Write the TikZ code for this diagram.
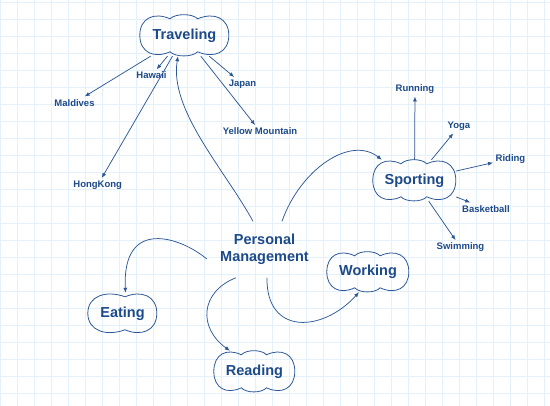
\documentclass[tikz,border=0pt]{standalone}
\usepackage{fontspec}
\setmainfont{Liberation Sans}
\usetikzlibrary{arrows.meta,calc}
\definecolor{txtblue}{RGB}{28,74,138}
\definecolor{lnblue}{RGB}{45,88,152}
\definecolor{gridblue}{RGB}{228,241,250}
\newcommand\cloudThree[3]{%
 \begin{scope}[shift={(#1.north west)}]
  \draw[cloudline] ({0.34*#2},4) .. controls ({0.16*#2},-3) and (0,{0.08*#3}) .. (0,{0.5*#3})
   .. controls (0,{0.92*#3}) and ({0.16*#2},{#3+3}) .. ({0.34*#2},{#3-4})
   .. controls ({0.40*#2},{#3+1.5}) and ({0.59*#2},{#3+1.5}) .. ({0.65*#2},{#3-4})
   .. controls ({0.835*#2},{#3+3}) and (#2,{0.92*#3}) .. (#2,{0.5*#3})
   .. controls (#2,{0.08*#3}) and ({0.835*#2},-3) .. ({0.65*#2},4)
   .. controls ({0.59*#2},-1.5) and ({0.40*#2},-1.5) .. cycle;
 \end{scope}}
\newcommand\cloudTwo[3]{%
 \begin{scope}[shift={(#1.north west)}]
  \draw[cloudline] ({0.54*#2},4) .. controls ({0.26*#2},-3) and (0,{0.08*#3}) .. (0,{0.5*#3})
   .. controls (0,{0.92*#3}) and ({0.26*#2},{#3+3}) .. ({0.54*#2},{#3-4})
   .. controls ({0.78*#2},{#3+3}) and (#2,{0.92*#3}) .. (#2,{0.5*#3})
   .. controls (#2,{0.08*#3}) and ({0.78*#2},-3) .. cycle;
 \end{scope}}
\begin{document}
\begin{tikzpicture}[x=1pt,y=-1pt,
  cloudline/.style={draw=lnblue,line width=0.8pt},
  cloudnode/.style={inner sep=0pt,text=txtblue,font=\bfseries\fontsize{14.5}{17}\selectfont},
  leaf/.style={inner sep=2.5pt,text=txtblue,font=\bfseries\fontsize{9.5}{11}\selectfont},
  central/.style={inner sep=0pt,minimum width=115pt,minimum height=56pt,align=center,text=txtblue,font=\bfseries\fontsize{14.5}{17}\selectfont},
  conn/.style={draw=lnblue,line width=0.75pt,-{Latex[length=5pt,width=4pt]}},
  gridline/.style={draw=gridblue,line width=0.5pt}]
\useasboundingbox (0,0) rectangle (550,406);
\fill[white] (0,0) rectangle (550,406);
\foreach \i in {0,17,...,550} \draw[gridline] (\i,0) -- (\i,406);
\foreach \j in {2,19,...,406} \draw[gridline] (0,\j) -- (550,\j);

% central
\node[central] (pm) at (264.5,249.5) {Personal\\Management};

% clouds
\node[cloudnode,minimum width=89pt,minimum height=41pt] (trav) at (184.5,35.5) {Traveling};
\node[cloudnode,minimum width=83pt,minimum height=41pt] (sport) at (414.5,180.5) {Sporting};
\node[cloudnode,minimum width=82pt,minimum height=40pt] (work) at (368,272) {Working};
\node[cloudnode,minimum width=69pt,minimum height=41pt] (eat) at (122.5,313.5) {Eating};
\node[cloudnode,minimum width=81pt,minimum height=41pt] (read) at (254.5,371.5) {Reading};
\cloudThree{trav}{89}{41}
\cloudThree{sport}{83}{41}
\cloudThree{work}{82}{40}
\cloudTwo{eat}{69}{41}
\cloudThree{read}{81}{41}

% leaves
\node[leaf] (hawaii) at (151.5,75.6) {Hawaii};
\node[leaf] (maldives) at (74.5,102.7) {Maldives};
\node[leaf] (japan) at (242.5,84) {Japan};
\node[leaf] (yellow) at (260,131.3) {Yellow Mountain};
\node[leaf] (hongkong) at (97.7,185) {HongKong};
\node[leaf] (running) at (415,89.3) {Running};
\node[leaf] (yoga) at (459,126.3) {Yoga};
\node[leaf] (riding) at (510.5,158.7) {Riding};
\node[leaf] (basket) at (486,208.7) {Basketball};
\node[leaf] (swim) at (460.5,247.3) {Swimming};

% leaf connectors
\draw[conn] (trav) -- (maldives);
\draw[conn] (trav) -- (hawaii);
\draw[conn] (trav) -- (hongkong);
\draw[conn] (trav) -- (japan);
\draw[conn] (trav) -- (yellow);
\draw[conn] (sport) -- (running);
\draw[conn] (sport) -- (yoga);
\draw[conn] (sport) -- (riding);
\draw[conn] (sport) -- (basket);
\draw[conn] (sport) -- (swim);

% central connectors
\draw[conn] ([xshift=-11.5pt]pm.north) .. controls (225,170) and (169,110) .. ([xshift=-6.5pt]trav.south);
\draw[conn] ([xshift=17.5pt]pm.north) .. controls (300,170) and (350,135) .. ([xshift=9pt]sport.north west);
\draw[conn] ([yshift=-9.5pt]pm.west) .. controls (182,238) and (122,216) .. ([xshift=3pt]eat.north);
\draw[conn] ([xshift=-28.5pt]pm.south) .. controls (200,292) and (198,328) .. ([xshift=-24.5pt]read.north);
\draw[conn] ([xshift=2.5pt]pm.south) .. controls (266,335) and (322,333) .. ([xshift=-9pt]work.south);
\end{tikzpicture}
\end{document}
